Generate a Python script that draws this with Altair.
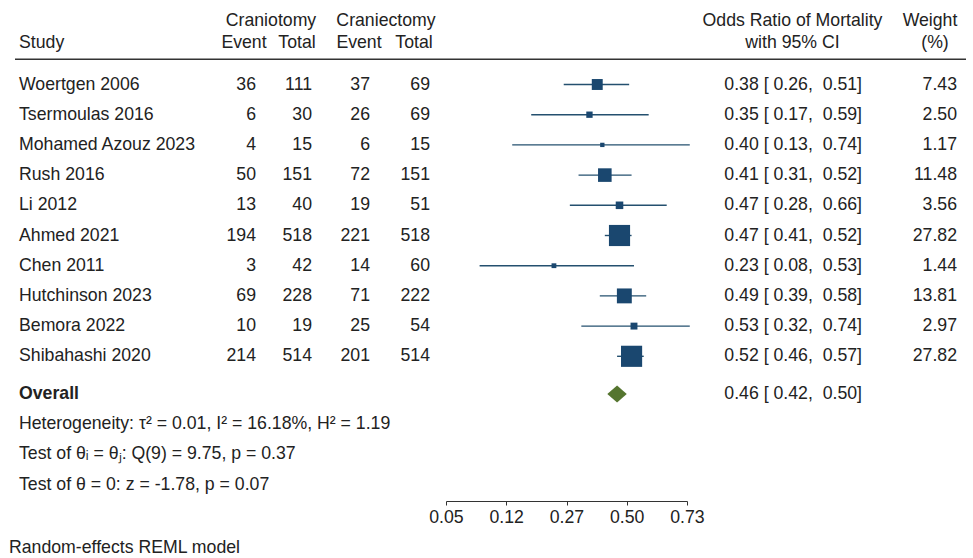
import altair as alt
import pandas as pd

# ---------------- data ----------------
studies = ["Woertgen 2006", "Tsermoulas 2016", "Mohamed Azouz 2023", "Rush 2016", "Li 2012",
           "Ahmed 2021", "Chen 2011", "Hutchinson 2023", "Bemora 2022", "Shibahashi 2020"]
craniotomy_event = [36, 6, 4, 50, 13, 194, 3, 69, 10, 214]
craniotomy_total = [111, 30, 15, 151, 40, 518, 42, 228, 19, 514]
craniectomy_event = [37, 26, 6, 72, 19, 221, 14, 71, 25, 201]
craniectomy_total = [69, 69, 15, 151, 51, 518, 60, 222, 54, 514]
odds_ratio = [0.38, 0.35, 0.40, 0.41, 0.47, 0.47, 0.23, 0.49, 0.53, 0.52]
ci_low = [0.26, 0.17, 0.13, 0.31, 0.28, 0.41, 0.08, 0.39, 0.32, 0.46]
ci_high = [0.51, 0.59, 0.74, 0.52, 0.66, 0.52, 0.53, 0.58, 0.74, 0.57]
weight = [7.43, 2.50, 1.17, 11.48, 3.56, 27.82, 1.44, 13.81, 2.97, 27.82]

overall = [0.42, 0.46, 0.50]  # low, estimate, high
stats_lines = ["Heterogeneity: \u03c4\u00b2 = 0.01, I\u00b2 = 16.18%, H\u00b2 = 1.19",
               "Test of \u03b8\u1d62 = \u03b8\u2c7c: Q(9) = 9.75, p = 0.37",
               "Test of \u03b8 = 0: z = -1.78, p = 0.07"]
tick_values = [-3, -2, -1, 0, 1]
footnote = "Random-effects REML model"

# ---------------- style / layout ----------------
FONT = "Liberation Sans"
FS = 17.7
TXT = "#222222"
NAVY = "#1a476f"
GREEN = "#55752f"
NB = "\u00a0"

def fmt_ci(e, l, h):
    return f"{e:.2f} [{l:5.2f}, {h:5.2f}]".replace(" ", NB)

df = pd.DataFrame({
    "study": studies,
    "ce": craniotomy_event, "ct": craniotomy_total,
    "xe": craniectomy_event, "xt": craniectomy_total,
    "or": odds_ratio, "lo": ci_low, "hi": ci_high, "w": weight,
})
df["row"] = range(len(df))
df["esci"] = [fmt_ci(e, l, h) for e, l, h in zip(odds_ratio, ci_low, ci_high)]
df["wtxt"] = [f"{w:.2f}" for w in weight]

OVERALL_ROW = 10.25
DIA_HALF = 0.28
dia = pd.DataFrame({"v": overall,
                    "ytop": [OVERALL_ROW, OVERALL_ROW - DIA_HALF, OVERALL_ROW],
                    "ybot": [OVERALL_ROW, OVERALL_ROW + DIA_HALF, OVERALL_ROW]})
ov_txt = pd.DataFrame({"row": [OVERALL_ROW], "label": ["Overall"],
                       "esci": [fmt_ci(overall[1], overall[0], overall[2])]})
st = pd.DataFrame({"row": [OVERALL_ROW + 1 + i for i in range(len(stats_lines))],
                   "t": stats_lines})

xs = alt.Scale(domain=[-3, 1], range=[446, 687], nice=False, zero=False)
ys = alt.Scale(domain=[0, 9], range=[84.5, 356.3], nice=False, zero=False)
xaxis = alt.Axis(values=tick_values, title=None, grid=False,
                 labelExpr="format(1/(1+exp(-datum.value)), '.2f')",
                 tickSize=4, labelPadding=3, labelFont=FONT, labelFontSize=FS,
                 labelColor=TXT, domainColor="#333333", tickColor="#333333",
                 labelFlush=False, labelOverlap=False)
Y = alt.Y("row:Q", scale=ys, axis=None)

base = alt.Chart(df)

ci = base.transform_calculate(
    llo="log(datum.lo/(1-datum.lo))", lhi="log(datum.hi/(1-datum.hi))"
).mark_rule(color="#24506f", strokeWidth=1.4).encode(
    x=alt.X("llo:Q", scale=xs, axis=xaxis), x2="lhi:Q", y=Y)

sq = base.transform_calculate(lor="log(datum.or/(1-datum.or))").mark_square(
    color=NAVY, opacity=1).encode(
    x=alt.X("lor:Q", scale=xs, axis=xaxis), y=Y,
    size=alt.Size("w:Q", scale=alt.Scale(domain=[0, 28], range=[0, 450]), legend=None))

diamond = alt.Chart(dia).transform_calculate(lv="log(datum.v/(1-datum.v))").mark_area(
    color=GREEN, orient="vertical", opacity=1).encode(
    x=alt.X("lv:Q", scale=xs, axis=xaxis),
    y=alt.Y("ytop:Q", scale=ys, axis=None), y2="ybot:Q")

def col(chart, field, xpx, align, bold=False):
    return chart.mark_text(align=align, baseline="middle", font=FONT, fontSize=FS,
                           color=TXT, fontWeight="bold" if bold else "normal").encode(
        x=alt.value(xpx), y=Y, text=f"{field}")

layers = [ci, sq, diamond,
          col(base, "study:N", 19, "left"),
          col(base, "ce:Q", 256, "right"),
          col(base, "ct:Q", 312, "right"),
          col(base, "xe:Q", 370, "right"),
          col(base, "xt:Q", 430, "right"),
          col(base, "esci:N", 862, "right"),
          col(base, "wtxt:N", 957, "right"),
          col(alt.Chart(ov_txt), "label:N", 19, "left", bold=True),
          col(alt.Chart(ov_txt), "esci:N", 862, "right"),
          col(alt.Chart(st), "t:N", 19, "left")]

headers = [("Craniotomy", 271, 20.7, "center"), ("Craniectomy", 386, 20.7, "center"),
           ("Odds Ratio of Mortality", 792.5, 20.7, "center"), ("Weight", 930, 20.7, "center"),
           ("Study", 19, 43.3, "left"), ("Event", 244, 43.3, "center"), ("Total", 297, 43.3, "center"),
           ("Event", 359, 43.3, "center"), ("Total", 414, 43.3, "center"),
           ("with 95% CI", 792.5, 43.3, "center"), ("(%)", 935, 43.3, "center")]
hdf = pd.DataFrame({"t": [h[0] for h in headers]})
for i, (t, xp, yp, al) in enumerate(headers):
    layers.append(alt.Chart(hdf.iloc[[i]]).mark_text(
        align=al, baseline="middle", font=FONT, fontSize=FS, color=TXT).encode(
        x=alt.value(xp), y=alt.value(yp), text="t:N"))

rule_df = pd.DataFrame({"k": [0]})
layers.append(alt.Chart(rule_df).mark_rule(color="#333333", strokeWidth=1.5).encode(
    x=alt.value(15), x2=alt.value(966), y=alt.value(59.3)))

fn = pd.DataFrame({"t": [footnote]})
layers.append(alt.Chart(fn).mark_text(align="left", baseline="middle", font=FONT,
                                      fontSize=FS, color=TXT).encode(
    x=alt.value(9), y=alt.value(548), text="t:N"))

chart = alt.layer(*layers).properties(
    width=973, height=501, autosize="none",
    padding={"left": 0, "top": 0, "right": 0, "bottom": 57},
    background="white",
).configure_view(stroke=None)

chart.save("out.html", embed_options={"renderer": "svg", "actions": False})
